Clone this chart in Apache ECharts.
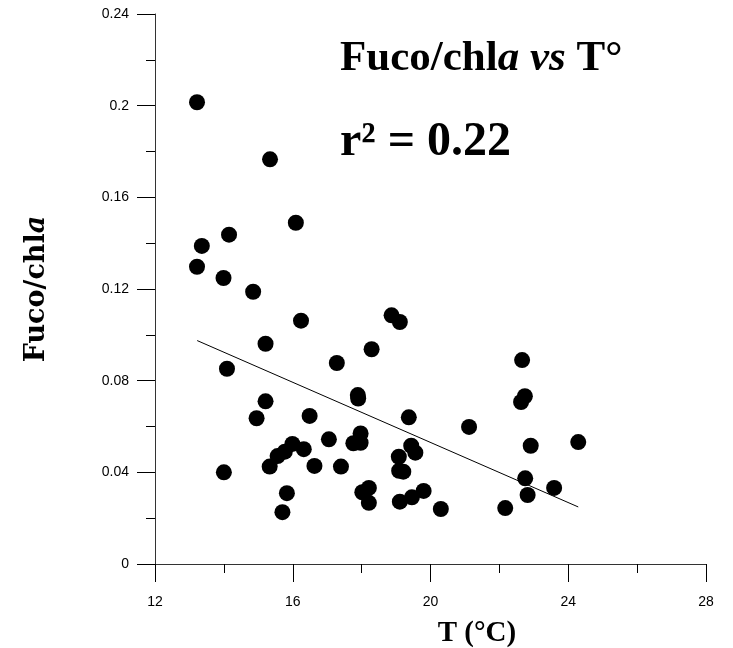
<!DOCTYPE html>
<html>
<head>
<meta charset="utf-8">
<script src="https://cdn.jsdelivr.net/npm/echarts@6/dist/echarts.min.js"></script>
<style>html,body{margin:0;padding:0;background:#fff}#c{width:733px;height:648px}</style>
</head>
<body>
<div id="c"></div>
<script>
// Temperature (°C) of each sample
var tempC = [13.22,15.34,16.09,14.15,13.36,13.22,13.99,14.85,16.24,
  15.21,14.09,17.28,15.21,14.95,16.49,17.05,15.99,15.77,15.56,16.32,15.33,16.63,17.40,14.00,15.83,15.70,
  18.87,19.11,18.29,22.66,22.74,22.63,17.89,17.90,19.37,21.12,17.97,17.76,17.97,19.44,19.56,19.08,19.21,19.09,
  22.91,24.29,22.75,23.59,22.82,18.02,18.21,18.21,19.11,19.46,19.80,20.30,22.17];
// Fuco/chl a ratio of each sample
var fucoChla = [0.2015,0.1766,0.1489,0.1437,0.1388,0.1297,0.1248,0.1188,0.1062,
  0.0961,0.0852,0.0877,0.0710,0.0636,0.0646,0.0544,0.0524,0.0490,0.0471,0.0501,0.0425,0.0428,0.0425,0.0400,0.0309,0.0226,
  0.1085,0.1056,0.0937,0.0890,0.0732,0.0707,0.0737,0.0722,0.0640,0.0598,0.0570,0.0527,0.0529,0.0516,0.0486,0.0468,0.0403,0.0407,
  0.0516,0.0532,0.0374,0.0332,0.0301,0.0313,0.0332,0.0267,0.0272,0.0291,0.0319,0.0240,0.0244];
// regression line end points
var trendX = [13.225, 24.29];
var trendY = [0.0975, 0.0249];
var xTicks = [12,16,20,24,28];
var yTicks = [0,0.04,0.08,0.12,0.16,0.2,0.24];

var pts = tempC.map(function(t,i){return [t, fucoChla[i]];});
var trend = trendX.map(function(t,i){return [t, trendY[i]];});

var chart = echarts.init(document.getElementById('c'), null, {renderer:'canvas'});
var axisCol = '#333';
chart.setOption({
  animation:false,
  backgroundColor:'#fff',
  title:[{
    left:340, top:37, padding:0,
    text:'{b|Fuco/chl}{bi|a vs}{b| T°}',
    textStyle:{rich:{
      b:{fontFamily:'Liberation Serif',fontWeight:'bold',fontSize:43,color:'#000'},
      bi:{fontFamily:'Liberation Serif',fontWeight:'bold',fontStyle:'italic',fontSize:43,color:'#000'}
    }}
  },{
    left:340, top:119, padding:0,
    text:'r² = 0.22',
    textStyle:{fontFamily:'Liberation Serif',fontWeight:'bold',fontSize:48,color:'#000'}
  }],
  grid:{left:155,right:27,top:14,bottom:84,containLabel:false,outerBoundsMode:'none'},
  xAxis:{
    type:'value',min:12,max:28,interval:4,
    axisLine:{onZero:false,lineStyle:{color:axisCol,width:1}},
    axisTick:{length:18,lineStyle:{color:'#000'}},
    minorTick:{show:true,splitNumber:2,length:9,lineStyle:{color:'#000'}},
    splitLine:{show:false},
    axisLabel:{margin:31,fontFamily:'Liberation Sans',fontSize:14,color:'#000',
      formatter:function(v){return xTicks.indexOf(v)>=0?String(v):'';}},
    name:'T (°C)',nameLocation:'middle',nameGap:55,
    nameTextStyle:{fontFamily:'Liberation Serif',fontWeight:'bold',fontSize:29,color:'#000',padding:[0,0,0,93]}
  },
  yAxis:{
    type:'value',min:0,max:0.24,interval:0.04,
    axisLine:{onZero:false,lineStyle:{color:axisCol,width:1}},
    axisTick:{length:18,lineStyle:{color:'#000'}},
    minorTick:{show:true,splitNumber:2,length:9,lineStyle:{color:'#000'}},
    splitLine:{show:false},
    axisLabel:{margin:26,fontFamily:'Liberation Sans',fontSize:14,color:'#000',
      formatter:function(v){
        for(var i=0;i<yTicks.length;i++){ if(Math.abs(yTicks[i]-v)<1e-9) return String(yTicks[i]); }
        return '';
      }},
    name:'{b|Fuco/chl}{bi|a}',nameLocation:'middle',nameRotate:90,nameGap:105,
    nameTextStyle:{rich:{
      b:{fontFamily:'DejaVu Serif',fontWeight:'bold',fontSize:27,color:'#000'},
      bi:{fontFamily:'DejaVu Serif',fontWeight:'bold',fontStyle:'italic',fontSize:27,color:'#000'}
    }}
  },
  series:[{
    type:'scatter',data:pts,symbol:'circle',symbolSize:16,
    itemStyle:{color:'#000',opacity:1},z:3
  },{
    type:'line',data:trend,symbol:'none',lineStyle:{color:'#000',width:1},z:2
  }]
});
</script>
</body>
</html>
